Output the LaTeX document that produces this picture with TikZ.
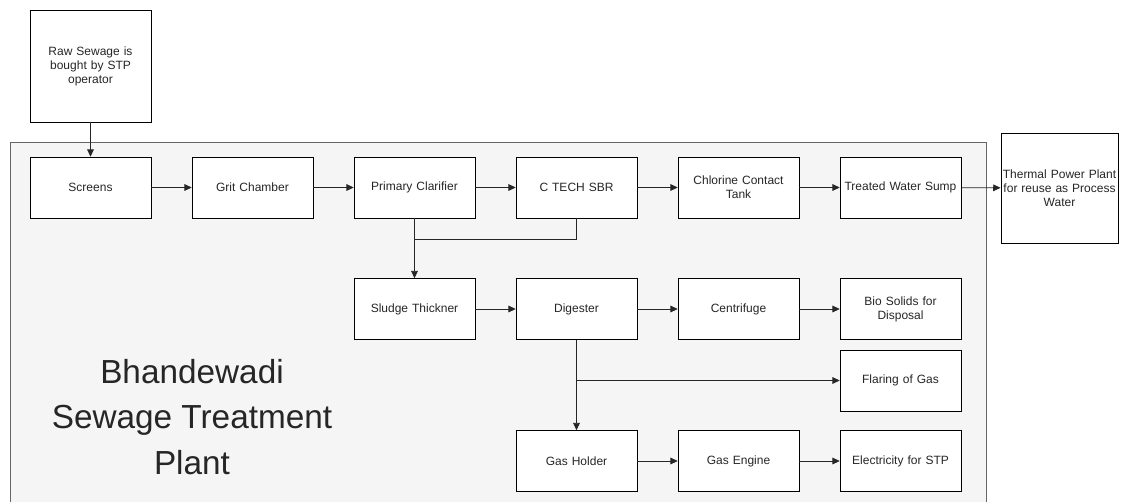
\documentclass[tikz,border=0pt]{standalone}
\usepackage{fontspec}
\setmainfont{Liberation Sans}
\usetikzlibrary{arrows.meta}

\begin{document}
\begin{tikzpicture}[
  x=0.75pt, y=-0.75pt,
  >={Triangle[length=5.5pt,width=5pt]},
  every node/.style={font=\fontsize{9}{10.5}\selectfont, text=black!85},
  process/.style={rectangle, draw=black, fill=white, minimum width=90.75pt,
    minimum height=45.75pt, align=center, inner sep=1pt, text width=88pt},
  outside/.style={process, minimum width=90.75pt, minimum height=84pt},
  plantarea/.style={draw=black!60, fill=black!4},
  flow/.style={->, draw=black!85, line width=0.6pt}
]
  \useasboundingbox (0,0) rectangle (1124,501);
  \path[plantarea] (10,505) -- (10,142) -- (986,142) -- (986,505);

  \node[outside] (raw) at (90.5, 66) {Raw Sewage is\\bought by STP\\operator};
  \node[outside, minimum width=86.25pt, minimum height=82.5pt, text width=86pt] (thermal) at (1059.5, 188)
    {Thermal Power Plant\\for reuse as Process\\Water};

  % main water line
  \node[process] (screens) at (90.5, 187.5) {Screens};
  \node[process] (grit) at (252.5, 187.5) {Grit Chamber};
  \node[process] (clarifier) at (414.5, 187.5) {Primary Clarifier};
  \node[process] (sbr) at (576.5, 187.5) {C TECH SBR};
  \node[process] (chlorine) at (738.5, 187.5) {Chlorine Contact\\Tank};
  \node[process] (sump) at (900.5, 187.5) {Treated Water Sump};

  % sludge line
  \node[process] (thickener) at (414.5, 309) {Sludge Thickner};
  \node[process] (digester) at (576.5, 309) {Digester};
  \node[process] (centrifuge) at (738.5, 309) {Centrifuge};
  \node[process] (biosolids) at (900.5, 309) {Bio Solids for\\Disposal};
  \node[process] (flaring) at (900.5, 380.5) {Flaring of Gas};
  \node[process] (holder) at (576.5, 461) {Gas Holder};
  \node[process] (engine) at (738.5, 461) {Gas Engine};
  \node[process] (electricity) at (900.5, 461) {Electricity for STP};

  \node[font=\fontsize{25}{34}\selectfont, align=center] (plantname) at (192, 417)
    {Bhandewadi\\Sewage Treatment\\Plant};

  \draw[flow] (raw) -- (screens);
  \draw[flow] (screens) -- (grit);
  \draw[flow] (grit) -- (clarifier);
  \draw[flow] (clarifier) -- (sbr);
  \draw[flow] (sbr) -- (chlorine);
  \draw[flow] (chlorine) -- (sump);
  \draw[flow] (sump) -- (thermal);

  \coordinate (sludgejoin) at (414.5, 239);
  \draw[flow, -] (sbr.south) |- (sludgejoin) -- (clarifier.south);
  \draw[flow] (sludgejoin) -- (thickener);
  \draw[flow] (thickener) -- (digester);
  \draw[flow] (digester) -- (centrifuge);
  \draw[flow] (centrifuge) -- (biosolids);

  \coordinate (gassplit) at (576.5, 380.5);
  \draw[flow] (digester) -- (holder);
  \draw[flow] (gassplit) -- (flaring);
  \draw[flow] (holder) -- (engine);
  \draw[flow] (engine) -- (electricity);
\end{tikzpicture}
\end{document}
